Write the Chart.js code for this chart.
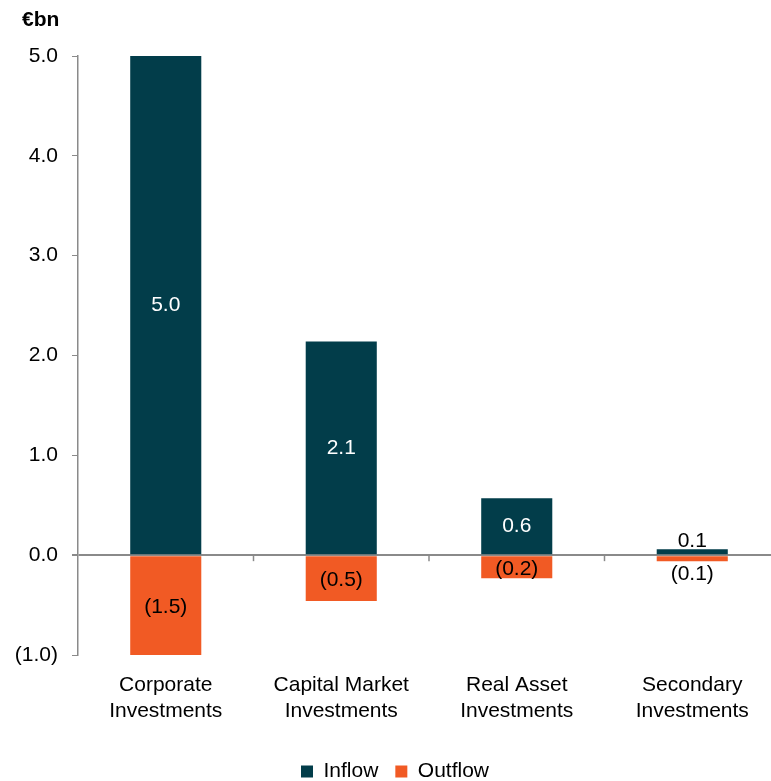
<!DOCTYPE html>
<html>
<head>
<meta charset="utf-8">
<title>Investment flows</title>
<script src="https://cdn.jsdelivr.net/npm/chart.js@4"></script>
<style>
    html, body { margin: 0; padding: 0; background: #fff; overflow: hidden; }
    #wrap { width: 780px; height: 781px; }
</style>
</head>
<body>
<div id="wrap"><canvas id="flowChart"></canvas></div>
<script>
// Data (€bn)
const categories = [
    ['Corporate', 'Investments'],
    ['Capital Market', 'Investments'],
    ['Real Asset', 'Investments'],
    ['Secondary', 'Investments']
];
const inflow = [5.0, 2.14, 0.57, 0.06];
const outflow = [-1.5, -0.46, -0.23, -0.06];
const seriesNames = ['Inflow', 'Outflow'];
const unitLabel = '€bn';

const inflowColor = '#023d4a';
const outflowColor = '#f15a24';
const axisGray = '#8a8a8a';
const fontFamily = '"Liberation Sans", Arial, Helvetica, sans-serif';

// negative numbers shown in brackets, one decimal
function formatValue(v) {
    const s = Math.abs(v).toFixed(1);
    return v < 0 ? '(' + s + ')' : s;
}

// unit label in the top left corner
const unitTitle = {
    id: 'unitTitle',
    afterDraw(chart) {
        const ctx = chart.ctx;
        ctx.save();
        ctx.font = 'bold 21px ' + fontFamily;
        ctx.fillStyle = '#000';
        ctx.textAlign = 'left';
        ctx.textBaseline = 'middle';
        ctx.fillText(unitLabel, 22, 20);
        ctx.restore();
    }
};

// value labels: inside the bar when there is room, otherwise just outside
const barLabels = {
    id: 'barLabels',
    afterDatasetsDraw(chart) {
        const { ctx, chartArea } = chart;
        ctx.save();
        ctx.font = '21px ' + fontFamily;
        ctx.textAlign = 'center';
        ctx.textBaseline = 'middle';
        chart.data.datasets.forEach((ds, di) => {
            chart.getDatasetMeta(di).data.forEach((bar, i) => {
                const v = ds.data[i];
                const top = Math.max(Math.min(bar.y, bar.base), chartArea.top);
                const bottom = Math.min(Math.max(bar.y, bar.base), chartArea.bottom);
                let y;
                let color = '#000';
                if (bottom - top >= 20) {
                    y = (top + bottom) / 2 + (v < 0 ? 2 : 0);
                    if (v > 0) color = '#fff';
                } else if (v > 0) {
                    y = top - 8;
                } else {
                    y = bottom + 13;
                }
                ctx.fillStyle = color;
                ctx.fillText(formatValue(v), bar.x, y);
            });
        });
        ctx.restore();
    }
};

// small tick marks on the zero line between categories
const boundaryTicks = {
    id: 'boundaryTicks',
    afterDraw(chart) {
        const xs = chart.scales.x;
        const zero = chart.scales.y.getPixelForValue(0);
        const ctx = chart.ctx;
        ctx.save();
        ctx.strokeStyle = axisGray;
        ctx.lineWidth = 1.5;
        for (let i = 0; i < categories.length - 1; i++) {
            const px = (xs.getPixelForValue(i) + xs.getPixelForValue(i + 1)) / 2;
            ctx.beginPath();
            ctx.moveTo(px, zero);
            ctx.lineTo(px, zero + 6);
            ctx.stroke();
        }
        ctx.restore();
    }
};

Chart.defaults.font.family = fontFamily;
Chart.defaults.font.size = 21;
Chart.defaults.color = '#000';

new Chart(document.getElementById('flowChart'), {
    type: 'bar',
    data: {
        labels: categories,
        datasets: [
            {
                label: seriesNames[0],
                data: inflow,
                backgroundColor: inflowColor,
                barPercentage: 0.405,
                categoryPercentage: 1
            },
            {
                label: seriesNames[1],
                data: outflow,
                backgroundColor: outflowColor,
                barPercentage: 0.405,
                categoryPercentage: 1
            }
        ]
    },
    options: {
        responsive: true,
        maintainAspectRatio: false,
        animation: false,
        layout: {
            padding: { top: 56, left: 10, right: 0, bottom: -11 }
        },
        plugins: {
            title: { display: false },
            legend: {
                position: 'bottom',
                labels: {
                    boxWidth: 12,
                    boxHeight: 12,
                    padding: 17,
                    color: '#000',
                    font: { size: 21 }
                }
            },
            tooltip: { enabled: false }
        },
        scales: {
            x: {
                stacked: true,
                grid: { display: false },
                border: { display: false },
                ticks: { padding: 10, color: '#000' },
                afterFit(scale) { scale.height = 89; }
            },
            y: {
                stacked: true,
                min: -1,
                max: 5,
                z: 1,
                ticks: {
                    stepSize: 1,
                    padding: 14,
                    color: '#000',
                    callback: (v) => formatValue(v)
                },
                grid: {
                    drawTicks: true,
                    tickLength: 6,
                    tickColor: axisGray,
                    color: (c) => (c.tick && c.tick.value === 0 ? axisGray : 'rgba(0,0,0,0)'),
                    lineWidth: (c) => (c.tick && c.tick.value === 0 ? 2 : 1)
                },
                border: { display: true, color: axisGray, width: 1.5 },
                afterFit(scale) { scale.width = 68; }
            }
        }
    },
    plugins: [barLabels, boundaryTicks, unitTitle]
});
</script>
</body>
</html>
